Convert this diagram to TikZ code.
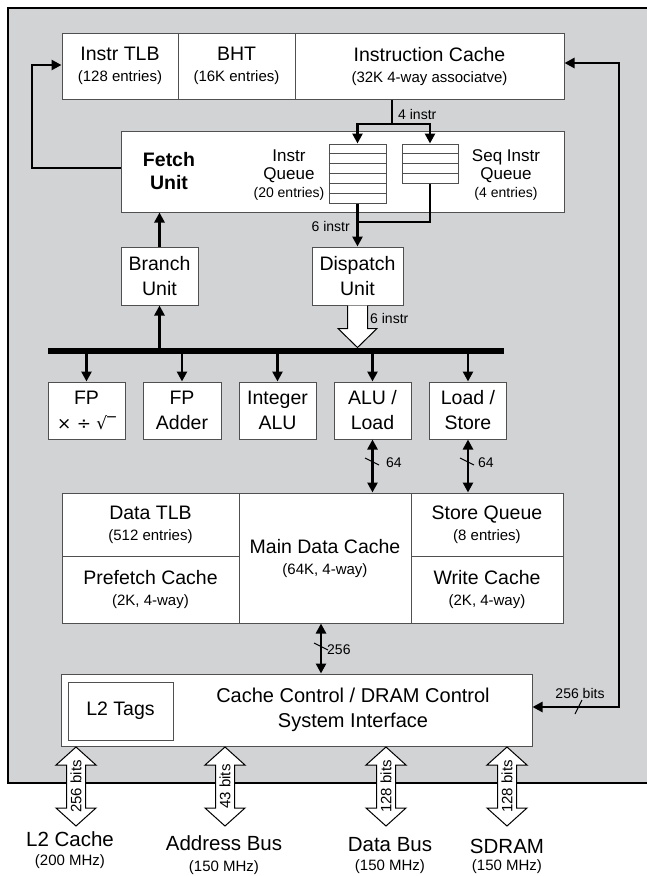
\documentclass[tikz,border=0pt]{standalone}
\usepackage{fontspec}
\setmainfont{Liberation Sans}
\newfontfamily\symfont{DejaVu Sans}
\usetikzlibrary{arrows.meta,calc}
\definecolor{panel}{RGB}{210,211,213}
\definecolor{edge}{RGB}{80,80,80}
\newcommand\mainsz{\fontsize{19.5}{25}\selectfont}
\newcommand\subsz{\fontsize{15}{21}\selectfont}
\newcommand\qmainsz{\fontsize{17}{18}\selectfont}
\newcommand\qsubsz{\fontsize{14}{18}\selectfont}
\newcommand\lblsz{\fontsize{14}{16}\selectfont}
\newcommand\extsz{\fontsize{20.5}{25}\selectfont}
\begin{document}
\begin{tikzpicture}[x=1pt,y=-1pt,
  box/.style={draw=edge, line width=1pt, fill=white, inner sep=0pt, align=center, font=\mainsz},
  conn/.style={line width=2.7pt, line join=miter},
  tip/.style={-{Triangle[length=10pt,width=10pt]}},
  twotip/.style={{Triangle[length=10pt,width=10pt]}-{Triangle[length=10pt,width=10pt]}},
  hollow/.style={draw=black, line width=1pt, fill=white, line join=miter},
  slash/.style={line width=1pt},
  lbl/.style={font=\lblsz, inner sep=0pt},
  txt/.style={inner sep=0pt, align=center, font=\mainsz}]
\useasboundingbox (0,0) rectangle (647,876);

% chip outline
\draw[fill=panel, line width=2.5pt] (8,8) rectangle (670,783);

% instruction side
\node[box, minimum width=116, minimum height=66] (itlb) at (120,66) {Instr TLB\\[-4pt]{\subsz (128 entries)}};
\node[box, minimum width=117, minimum height=66] (bht) at (236.5,66) {BHT\\[-4pt]{\subsz (16K entries)}};
\node[box, minimum width=269, minimum height=66] (icache) at (429.5,66) {Instruction Cache\\[-4pt]{\subsz (32K 4-way associatve)}};

\node[box, minimum width=443, minimum height=81] (fetch) at (342.5,171.5) {};
\node[txt, font=\mainsz\bfseries] (fetchtxt) at (169,171) {Fetch\\[-2pt]Unit};
\node[txt, font=\qmainsz] (iqtxt) at (289,175) {Instr\\Queue\\{\qsubsz (20 entries)}};
\node[txt, font=\qmainsz] (sqtxt) at (506,175) {Seq Instr\\Queue\\{\qsubsz (4 entries)}};

\node[box, minimum width=57, minimum height=59] (iq) at (357.5,173.5) {};
\node[box, minimum width=56, minimum height=39] (sq) at (430,163.5) {};
\foreach \k in {1,...,5}
  \draw[edge, line width=0.8pt] ($(iq.north west)!\k/6!(iq.south west)$) -- ($(iq.north east)!\k/6!(iq.south east)$);
\foreach \k in {1,...,3}
  \draw[edge, line width=0.8pt] ($(sq.north west)!\k/4!(sq.south west)$) -- ($(sq.north east)!\k/4!(sq.south east)$);

\node[box, minimum width=77, minimum height=58] (branch) at (159.5,276) {Branch\\Unit};
\node[box, minimum width=91, minimum height=58] (dispatch) at (357.5,276) {Dispatch\\Unit};

% result bus
\node[fill=black, inner sep=0pt, minimum width=456, minimum height=5.5] (bus) at (276,351) {};

% execution units
\node[box, minimum width=77, minimum height=57] (fpmul) at (86.5,410.5) {FP\\{\symfont\fontsize{17}{25}\selectfont × ÷ √‾}};
\node[box, minimum width=78, minimum height=57] (fpadd) at (182,410.5) {FP\\Adder};
\node[box, minimum width=77, minimum height=57] (intalu) at (277.5,410.5) {Integer\\ALU};
\node[box, minimum width=77, minimum height=57] (aluld) at (372.5,410.5) {ALU /\\Load};
\node[box, minimum width=77, minimum height=57] (ldst) at (468,410.5) {Load /\\Store};

% data side
\node[box, minimum width=177, minimum height=63] (dtlb) at (150.5,524.5) {Data TLB\\[-4pt]{\subsz (512 entries)}};
\node[box, minimum width=177, minimum height=67] (pfc) at (150.5,589.5) {Prefetch Cache\\[-4pt]{\subsz (2K, 4-way)}};
\node[box, minimum width=172, minimum height=130] (mdc) at (325,558) {Main Data Cache\\[-4pt]{\subsz (64K, 4-way)}};
\node[box, minimum width=152, minimum height=63] (stq) at (487,524.5) {Store Queue\\[-4pt]{\subsz (8 entries)}};
\node[box, minimum width=152, minimum height=67] (wc) at (487,589.5) {Write Cache\\[-4pt]{\subsz (2K, 4-way)}};

% system interface
\node[box, minimum width=471, minimum height=72] (l2ctl) at (296.5,710) {};
\node[box, minimum width=105, minimum height=58] (l2tags) at (120.5,711) {L2 Tags};
\node[txt, font=\fontsize{20}{25}\selectfont] (ctltxt) at (353,710) {Cache Control / DRAM Control\\System Interface};

% fetch path
\coordinate (fork) at (392,124);
\draw[conn] (icache.south -| fork) -- (fork);
\draw[conn, tip] (fork) -| (iq.north);
\draw[conn, tip] (fork) -| (sq.north);
\node[lbl, anchor=west] (l4) at (398,114) {4 instr};

\coordinate (merge) at (357.5,222);
\draw[conn] (sq.south) |- (merge);
\draw[conn, tip] (iq.south) -- (dispatch.north);
\node[lbl, anchor=east] (l6a) at (350,226) {6 instr};

% branch path
\draw[conn, tip] (branch.north) -- (fetch.south -| branch.north);
\draw[conn, tip] (bus.north -| branch.south) -- (branch.south);

% loop from fetch to instruction TLB
\coordinate (ltop) at (32,65);
\coordinate (lbot) at (32,168);
\draw[conn, tip] (fetch.west |- lbot) -- (lbot) -- (ltop) -- (itlb.west |- ltop);

% refill path between system interface and instruction cache
\coordinate (rtop) at (619,63);
\coordinate (rbot) at (619,707);
\draw[conn, twotip] (icache.east |- rtop) -- (rtop) -- (rbot) -- (l2ctl.east |- rbot);
\draw[slash] (575,714) -- (582,700);
\node[lbl] (l256b) at (580,693) {256 bits};

% dispatch to bus
\draw[hollow, shift={(dispatch.south)}] (-10,0) -- (-10,23) -- (-19.5,23) -- (0,42) -- (19.5,23) -- (10,23) -- (10,0);
\node[lbl, anchor=west] (l6b) at (370,318) {6 instr};

% bus to units
\foreach \u in {fpmul,fpadd,intalu,aluld,ldst}
  \draw[conn, tip] (bus.south -| \u.north) -- (\u.north);

% load/store ports
\draw[conn, twotip] (aluld.south) -- (mdc.north -| aluld.south);
\draw[conn, twotip] (ldst.south) -- (stq.north -| ldst.south);
\draw[slash] (365,458) -- (379,465);
\draw[slash] (460,458) -- (474,465);
\node[lbl, anchor=west] (l64a) at (386,463) {64};
\node[lbl, anchor=west] (l64b) at (478,463) {64};

% data cache to system interface
\coordinate (dport) at (321,640);
\draw[conn, twotip] (mdc.south -| dport) -- (l2ctl.north -| dport);
\draw[slash] (314,643) -- (328,650);
\node[lbl, anchor=west] (l256) at (327,650) {256};

% external buses
\foreach \n/\xx/\w in {b1/76/256 bits, b2/225/43 bits, b3/386/128 bits, b4/507/128 bits} {
  \coordinate (\n) at (\xx,747);
  \draw[hollow, shift={(\n)}] (0,0) -- (20,18) -- (9.5,18) -- (9.5,61) -- (20,61) -- (0,79)
    -- (-20,61) -- (-9.5,61) -- (-9.5,18) -- (-20,18) -- cycle;
  \node[rotate=90, inner sep=0pt, font=\subsz] (\n t) at ($(\n)+(0,39.5)$) {\w};
}
\node[txt, font=\extsz, anchor=north] (e1) at (70,831) {L2 Cache\\[-6pt]{\subsz (200 MHz)}};
\node[txt, font=\extsz, anchor=north] (e2) at (224,835) {Address Bus\\[-4pt]{\subsz (150 MHz)}};
\node[txt, font=\extsz, anchor=north] (e3) at (390,837) {Data Bus\\[-6pt]{\subsz (150 MHz)}};
\node[txt, font=\extsz, anchor=north] (e4) at (507,839) {SDRAM\\[-8pt]{\subsz (150 MHz)}};
\end{tikzpicture}
\end{document}
